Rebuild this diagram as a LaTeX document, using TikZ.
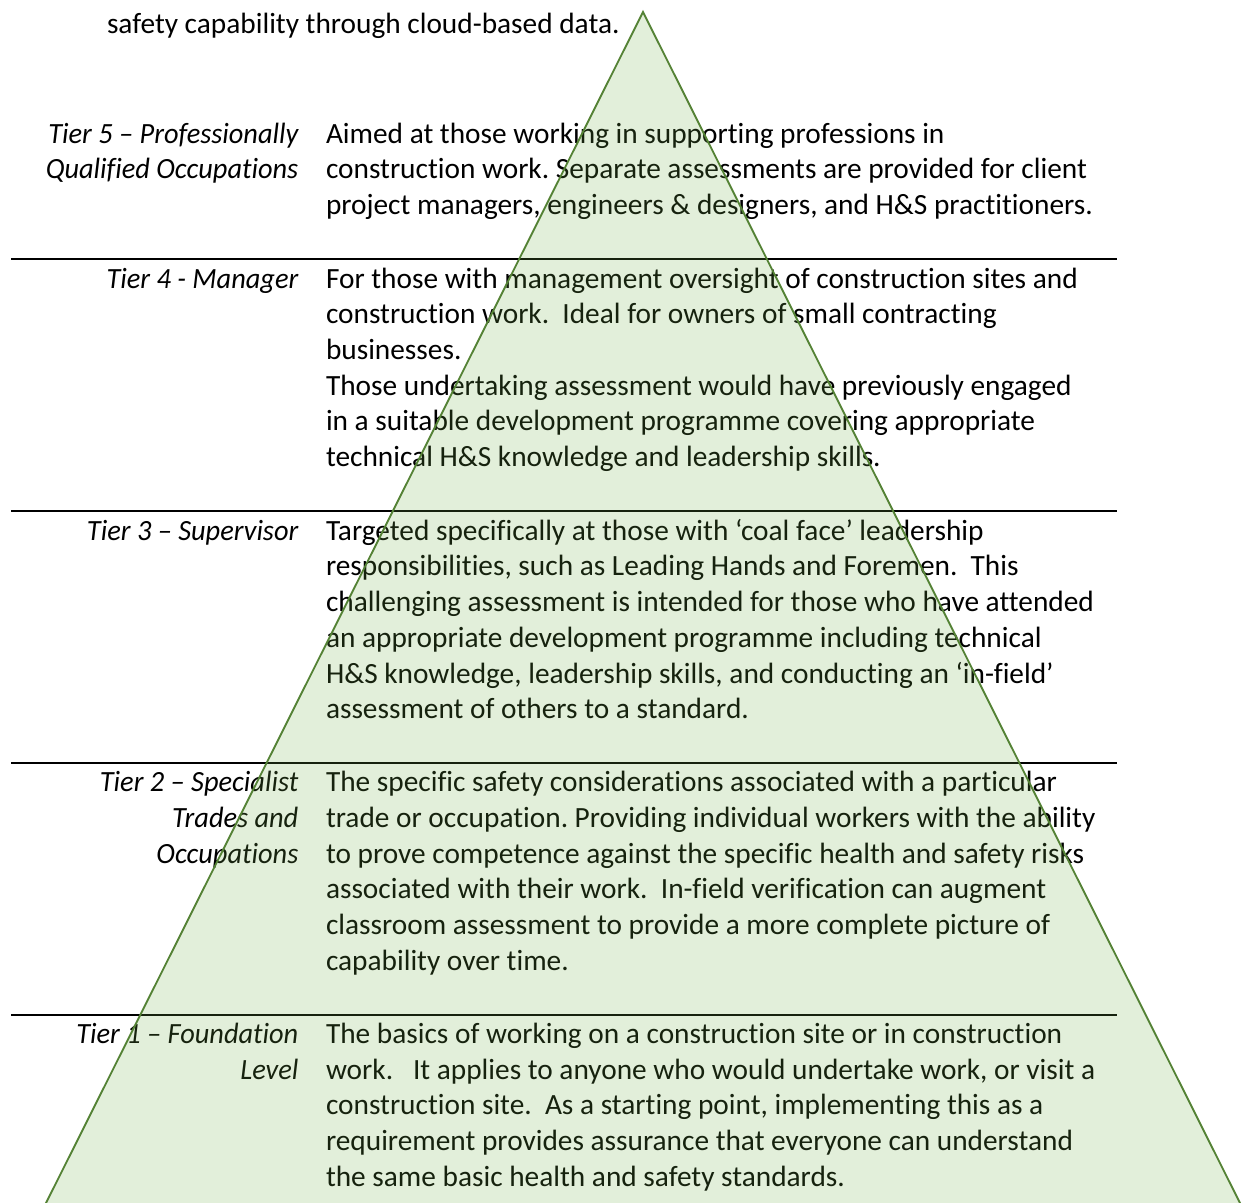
\documentclass[tikz,border=0pt]{standalone}
\usepackage{fontspec}
\setmainfont{Carlito}[Ligatures=NoCommon,ItalicFeatures={FakeStretch=0.967}]
\frenchspacing
\definecolor{pyrfill}{HTML}{70AD47}
\definecolor{pyredge}{HTML}{548235}
\newcommand{\bodyfnt}{\fontsize{11}{13.406}\selectfont}
\newcommand{\lbl}[1]{\hbox to 0pt{\hss\itshape #1}}
\newcommand{\txt}[1]{\hbox{#1}}
\newcommand{\vt}[1]{\vtop{\baselineskip=13.406pt\lineskiplimit=-20pt #1}}
\begin{document}
\begin{tikzpicture}[x=0.375pt,y=-0.375pt,
  every node/.style={inner sep=0pt,outer sep=0pt,font=\bodyfnt},
  body/.style={anchor=base west},
  label/.style={anchor=base west},
  rule/.style={line width=0.75pt,black},
  pyr/.style={fill=pyrfill,fill opacity=0.2,draw=pyredge,draw opacity=1,line width=0.7pt,line join=miter}]
\useasboundingbox (0,0) rectangle (1244,1203);
\clip (0,0) rectangle (1244,1203);

\node[body] (top) at (107,33) {\vt{\txt{safety capability through cloud-based data.}}};

% Tier 5
\node[label] (l5) at (297,143) {\vt{\lbl{Tier 5 – Professionally}\lbl{Qualified Occupations}}};
\node[body] (b5) at (326,143) {\vt{%
\txt{Aimed at those working in supporting professions in}%
\txt{construction work. Separate assessments are provided for client}%
\txt{project managers, engineers \& designers, and H\&S practitioners.}}};

% rules
\coordinate (r4a) at (11,259);  \coordinate (r4b) at (1117,259);
\coordinate (r3a) at (11,511);  \coordinate (r3b) at (1117,511);
\coordinate (r2a) at (11,762.7);\coordinate (r2b) at (1117,762.7);
\coordinate (r1a) at (11,1015); \coordinate (r1b) at (1117,1015);
\draw[rule] (r4a) -- (r4b);
\draw[rule] (r3a) -- (r3b);
\draw[rule] (r2a) -- (r2b);
\draw[rule] (r1a) -- (r1b);

% Tier 4
\node[label] (l4) at (297,288) {\vt{\lbl{Tier 4 - Manager}}};
\node[body] (b4) at (326,288) {\vt{%
\txt{For those with management oversight of construction sites and}%
\txt{construction work.~ Ideal for owners of small contracting}%
\txt{businesses.}%
\txt{Those undertaking assessment would have previously engaged}%
\txt{in a suitable development programme covering appropriate}%
\txt{technical H\&S knowledge and leadership skills.}}};

% Tier 3
\node[label] (l3) at (297,540) {\vt{\lbl{Tier 3 – Supervisor}}};
\node[body] (b3) at (326,540) {\vt{%
\txt{Targeted specifically at those with ‘coal face’ leadership}%
\txt{responsibilities, such as Leading Hands and Foremen.~ This}%
\txt{challenging assessment is intended for those who have attended}%
\txt{an appropriate development programme including technical}%
\txt{H\&S knowledge, leadership skills, and conducting an ‘in-field’}%
\txt{assessment of others to a standard.}}};

% Tier 2
\node[label] (l2) at (297,791.7) {\vt{\lbl{Tier 2 – Specialist}\lbl{Trades and}\lbl{Occupations}}};
\node[body] (b2) at (326,791.7) {\vt{%
\txt{The specific safety considerations associated with a particular}%
\txt{trade or occupation. Providing individual workers with the ability}%
\txt{to prove competence against the specific health and safety risks}%
\txt{associated with their work.~ In-field verification can augment}%
\txt{classroom assessment to provide a more complete picture of}%
\txt{capability over time.}}};

% Tier 1
\node[label] (l1) at (297,1043.3) {\vt{\lbl{Tier 1 – Foundation}\lbl{Level}}};
\node[body] (b1) at (326,1043.3) {\vt{%
\txt{The basics of working on a construction site or in construction}%
\txt{work.~~ It applies to anyone who would undertake work, or visit a}%
\txt{construction site.~ As a starting point, implementing this as a}%
\txt{requirement provides assurance that everyone can understand}%
\txt{the same basic health and safety standards.}}};

% pyramid
\coordinate (apex) at (643,12);
\coordinate (bl) at (-2.6,1300);
\coordinate (br) at (1288.6,1300);
\draw[pyr] (bl) -- (apex) -- (br);
\end{tikzpicture}
\end{document}
